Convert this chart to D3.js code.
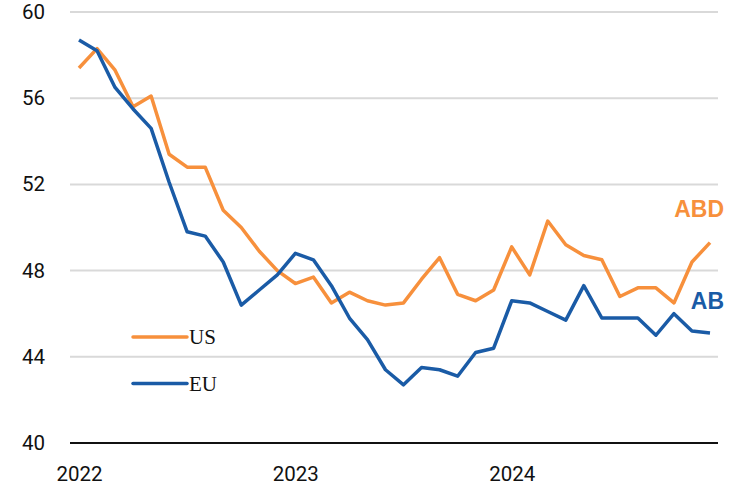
<!DOCTYPE html>
<html>
<head>
<meta charset="utf-8">
<script src="https://cdn.jsdelivr.net/npm/d3@7"></script>
<style>
  body { margin: 0; background: #fff; }
  svg { display: block; }
</style>
</head>
<body>
<svg id="vis" width="751" height="485"></svg>
<script>
// monthly readings, Jan 2022 .. Dec 2024
const MONTHS = d3.range(36);
const US = [57.4, 58.3, 57.3, 55.6, 56.1, 53.4, 52.8, 52.8, 50.8, 50.0, 48.9, 48.0,
            47.4, 47.7, 46.5, 47.0, 46.6, 46.4, 46.5, 47.6, 48.6, 46.9, 46.6, 47.1,
            49.1, 47.8, 50.3, 49.2, 48.7, 48.5, 46.8, 47.2, 47.2, 46.5, 48.4, 49.3];
const EU = [58.7, 58.2, 56.5, 55.5, 54.6, 52.1, 49.8, 49.6, 48.4, 46.4, 47.1, 47.8,
            48.8, 48.5, 47.3, 45.8, 44.8, 43.4, 42.7, 43.5, 43.4, 43.1, 44.2, 44.4,
            46.6, 46.5, 46.1, 45.7, 47.3, 45.8, 45.8, 45.8, 45.0, 46.0, 45.2, 45.1];
const Y_TICKS = [40, 44, 48, 52, 56, 60];
const YEAR_TICKS = [0, 12, 24];
const YEAR_LABELS = ["2022", "2023", "2024"];
const SERIES = [
  {name: "US", end: "ABD", color: "#f7903c", values: US},
  {name: "EU", end: "AB", color: "#1a5ba6", values: EU}
];

const svg = d3.select("#vis");
const x = d3.scaleLinear().domain([0, 35]).range([79, 710]);
const y = d3.scaleLinear().domain([40, 60]).range([443, 12]);
const tickFont = "Roboto, 'DejaVu Sans', sans-serif";

// gridlines
svg.append("g").selectAll("line")
  .data(Y_TICKS.filter(d => d > 40))
  .enter().append("line")
  .attr("x1", 70).attr("x2", 718)
  .attr("y1", d => y(d)).attr("y2", d => y(d))
  .attr("stroke", "#d9d9d9").attr("stroke-width", 2);

// y axis labels
const yAxis = svg.append("g")
  .attr("transform", "translate(45,0)")
  .call(d3.axisLeft(y).tickValues(Y_TICKS).tickSize(0).tickPadding(0));
yAxis.select(".domain").remove();
yAxis.selectAll("text")
  .attr("font-family", tickFont).attr("font-size", 20.5).attr("fill", "#111");

// x axis
const xAxis = svg.append("g")
  .attr("transform", `translate(0,${y(40)})`)
  .call(d3.axisBottom(x).tickValues(YEAR_TICKS)
    .tickFormat((d, i) => YEAR_LABELS[i]).tickSize(0).tickPadding(23));
xAxis.select(".domain").remove();
xAxis.selectAll("text")
  .attr("font-family", tickFont).attr("font-size", 20.5).attr("fill", "#111");
svg.append("line")
  .attr("x1", 70).attr("x2", 718)
  .attr("y1", y(40)).attr("y2", y(40))
  .attr("stroke", "#111").attr("stroke-width", 2);

// lines
const line = d3.line().x((d, i) => x(MONTHS[i])).y(d => y(d));
svg.selectAll("path.series")
  .data(SERIES)
  .enter().append("path")
  .attr("class", "series")
  .attr("d", d => line(d.values))
  .attr("fill", "none")
  .attr("stroke", d => d.color)
  .attr("stroke-width", 3.5)
  .attr("stroke-linejoin", "round");

// end labels
svg.selectAll("text.endlab")
  .data(SERIES)
  .enter().append("text")
  .attr("class", "endlab")
  .attr("x", 724)
  .attr("y", (d, i) => i === 0 ? 217 : 309)
  .attr("text-anchor", "end")
  .attr("font-family", "'Liberation Sans', Arial, sans-serif")
  .attr("font-weight", "bold")
  .attr("font-size", 23)
  .attr("fill", d => d.color)
  .text(d => d.end);

// legend
const legend = svg.selectAll("g.legend")
  .data(SERIES)
  .enter().append("g")
  .attr("class", "legend")
  .attr("transform", (d, i) => `translate(133,${337 + i * 46.5})`);
legend.append("line")
  .attr("x1", 0).attr("x2", 54)
  .attr("stroke", d => d.color).attr("stroke-width", 3.5)
  .attr("stroke-linecap", "round");
legend.append("text")
  .attr("x", 56).attr("y", 7)
  .attr("font-family", "'Liberation Serif', 'Times New Roman', serif")
  .attr("font-size", 21)
  .attr("fill", "#111")
  .text(d => d.name);
</script>
</body>
</html>
